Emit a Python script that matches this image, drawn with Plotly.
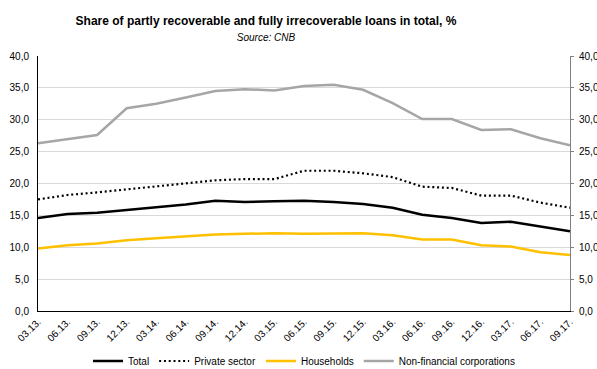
import plotly.graph_objects as go

categories = ["03.13.", "06.13.", "09.13.", "12.13.", "03.14.", "06.14.", "09.14.", "12.14.",
              "03.15.", "06.15.", "09.15.", "12.15.", "03.16.", "06.16.", "09.16.", "12.16.",
              "03.17.", "06.17.", "09.17."]
total = [14.6, 15.2, 15.4, 15.8, 16.3, 16.7, 17.3, 17.1, 17.2, 17.3, 17.1, 16.8, 16.2, 15.1, 14.6, 13.8, 14.0, 13.3, 12.5]
private_sector = [17.5, 18.2, 18.6, 19.1, 19.5, 20.0, 20.5, 20.7, 20.7, 22.0, 22.0, 21.6, 21.0, 19.5, 19.3, 18.1, 18.1, 17.0, 16.2]
households = [9.8, 10.3, 10.6, 11.1, 11.4, 11.7, 12.0, 12.1, 12.2, 12.1, 12.1, 12.2, 11.9, 11.2, 11.2, 10.3, 10.1, 9.2, 8.8]
nonfin = [26.3, 27.0, 27.6, 31.8, 32.5, 33.5, 34.5, 34.8, 34.6, 35.3, 35.5, 34.7, 32.6, 30.1, 30.1, 28.4, 28.5, 27.1, 26.0]

font = "Liberation Sans, Arial, sans-serif"
fig = go.Figure()
fig.add_trace(go.Scatter(x=categories, y=total, name="Total", mode="lines",
                         line=dict(color="#000000", width=2.5)))
fig.add_trace(go.Scatter(x=categories, y=private_sector, name="Private sector", mode="lines",
                         line=dict(color="#000000", width=2.2, dash="2px,2.8px")))
fig.add_trace(go.Scatter(x=categories, y=households, name="Households", mode="lines",
                         line=dict(color="#FFC000", width=2.5)))
fig.add_trace(go.Scatter(x=categories, y=nonfin, name="Non-financial corporations", mode="lines",
                         line=dict(color="#A6A6A6", width=2.5)))
fig.add_trace(go.Scatter(x=categories, y=total, yaxis="y2", showlegend=False, mode="lines",
                         line=dict(width=0), hoverinfo="skip", opacity=0))

fig.update_layout(
    width=597, height=369,
    margin=dict(l=38, r=27, t=56, b=58, autoexpand=False),
    paper_bgcolor="white", plot_bgcolor="white",
    separators=", ",
    font=dict(family=font, size=10, color="#000000"),
    title=dict(text="<b>Share of partly recoverable and fully irrecoverable loans in total, %</b>"
                    "<br><span style='font-size:10px'><i>Source: CNB</i></span>",
               x=266 / 597, xanchor="center", xref="container",
               y=1 - 25 / 369, yanchor="top", yref="container",
               font=dict(family=font, size=12, color="#000000")),
    xaxis=dict(type="category", tickangle=-45, showgrid=False, showline=True,
               linecolor="#000000", linewidth=1, ticks="", tickfont=dict(size=10),
               automargin=False),
    yaxis=dict(range=[0, 40], dtick=5, tickformat=".1f", showgrid=True, gridcolor="#d9d9d9",
               gridwidth=1, showline=True, linecolor="#000000", linewidth=1,
               ticks="", zeroline=False, ticklabelstandoff=6,
               tickfont=dict(size=10), automargin=False),
    yaxis2=dict(range=[0, 40], dtick=5, tickformat=".1f", overlaying="y", side="right",
                showgrid=False, showline=True, linecolor="#808080", linewidth=1,
                ticks="outside", ticklen=3, tickcolor="#808080", zeroline=False,
                ticklabelstandoff=3, tickfont=dict(size=10), automargin=False),
    legend=dict(orientation="h", x=0.5, xanchor="center", y=-50 / 255, yanchor="middle",
                font=dict(size=10), traceorder="normal"),
    showlegend=True,
)

fig.write_html("out.html", config={"displayModeBar": False},
               post_script="document.body.style.margin='0';document.body.style.padding='0';"
                           "document.body.style.overflow='hidden';")
